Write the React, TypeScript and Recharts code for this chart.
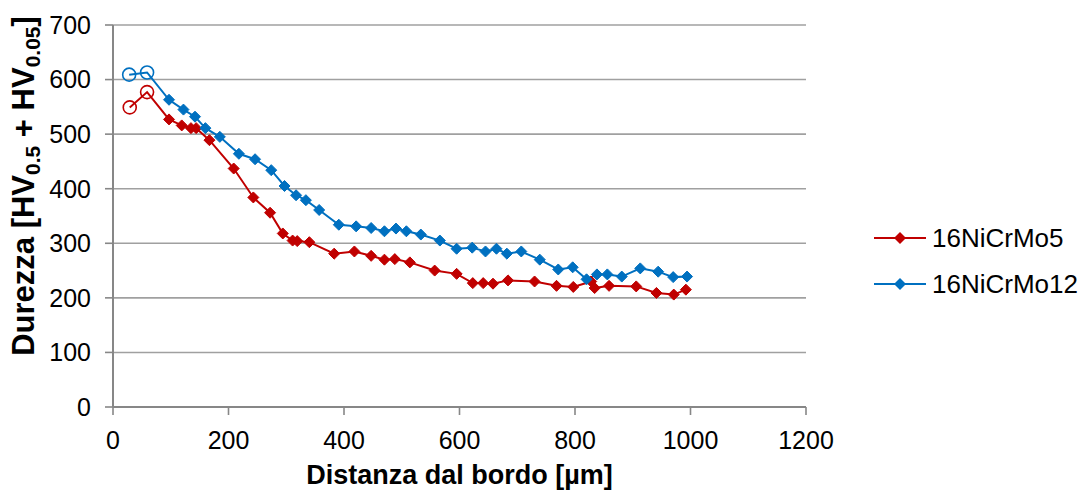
import React from 'react';
import { LineChart, Line, XAxis, YAxis, CartesianGrid } from 'recharts';

const seriesNames = ['16NiCrMo5', '16NiCrMo12'];
const seriesColors = ['#C00000', '#0070C0'];

const redX = [29, 59, 97, 119, 135, 144, 167, 209, 243, 272, 294, 311, 319, 340, 383, 418, 447, 470, 488, 514, 557, 595, 623, 641, 658, 684, 730, 768, 797, 828, 834, 859, 906, 941, 971, 992];
const redY = [549, 577, 527, 516, 511, 511, 489, 437, 384, 356, 318, 305, 304, 302, 281, 285, 277, 270, 271, 265, 250, 244, 227, 227, 226, 232, 230, 222, 220, 230, 218, 222, 221, 209, 206, 215];

const blueX = [28, 59, 97, 122, 142, 160, 185, 218, 246, 274, 297, 317, 334, 357, 391, 421, 447, 470, 490, 508, 533, 566, 595, 622, 645, 664, 682, 707, 739, 771, 796, 820, 838, 856, 881, 913, 944, 970, 994];
const blueY = [609, 613, 563, 545, 532, 511, 495, 464, 454, 434, 405, 388, 379, 361, 334, 331, 328, 322, 327, 322, 316, 305, 290, 292, 285, 290, 281, 285, 270, 252, 256, 234, 243, 243, 239, 254, 248, 238, 239];

const xTicks = [0, 200, 400, 600, 800, 1000, 1200];
const yTicks = [0, 100, 200, 300, 400, 500, 600, 700];

const redData = redX.map((x, i) => ({ x, y: redY[i] }));
const blueData = blueX.map((x, i) => ({ x, y: blueY[i] }));

const FONT = '"Liberation Sans", Arial, sans-serif';
const AXIS = '#878787';
const GRID = '#A0A0A0';

const makeDot = (color: string) => (props: any) => {
  const { cx, cy, index } = props;
  if (cx == null || cy == null) return <g key={`d-${index}`} />;
  if (index < 2) {
    return <circle key={`d-${index}`} cx={cx} cy={cy} r={6.5} fill="none" stroke={color} strokeWidth={1.6} />;
  }
  const s = 5.5;
  return (
    <polygon
      key={`d-${index}`}
      points={`${cx},${cy - s} ${cx + s},${cy} ${cx},${cy + s} ${cx - s},${cy}`}
      fill={color}
      stroke={color}
      strokeWidth={1}
    />
  );
};

const XTitle = (props: any) => {
  const vb = props.viewBox || {};
  const cx = vb.x + vb.width / 2;
  return (
    <text x={cx} y={484} textAnchor="middle" fontFamily={FONT} fontWeight="bold" fontSize={27} fill="#000">
      Distanza dal bordo [µm]
    </text>
  );
};

const YTitle = () => {
  return (
    <text
      x={0}
      y={0}
      transform="translate(34,186) rotate(-90)"
      textAnchor="middle"
      fontFamily={FONT}
      fontWeight="bold"
      fontSize={31}
      fill="#000"
    >
      <tspan>Durezza [HV</tspan>
      <tspan dy={6} fontSize={21}>0.5</tspan>
      <tspan dy={-6}> + HV</tspan>
      <tspan dy={6} fontSize={21}>0.05</tspan>
      <tspan dy={-6}>]</tspan>
    </text>
  );
};

const LegendBox = () => (
  <svg width={212} height={80} style={{ position: 'absolute', left: 870, top: 222, display: 'block' }}>
    {seriesNames.map((name, i) => {
      const y = 16 + i * 46;
      const s = 6;
      return (
        <g key={name}>
          <line x1={4} x2={56} y1={y} y2={y} stroke={seriesColors[i]} strokeWidth={2.2} />
          <polygon points={`30,${y - s} ${30 + s},${y} 30,${y + s} ${30 - s},${y}`} fill={seriesColors[i]} />
          <text x={62} y={y + 9} fontFamily={FONT} fontSize={26} fill="#000">
            {name}
          </text>
        </g>
      );
    })}
  </svg>
);

export default function App() {
  return (
    <div style={{ position: 'absolute', left: 0, top: 0, width: 1082, height: 490, background: '#fff' }}>
      <LineChart width={1082} height={490} margin={{ top: 25, right: 276, bottom: 0, left: 0 }}>
        <CartesianGrid horizontal vertical={false} stroke={GRID} strokeWidth={1.6} />
        <XAxis
          type="number"
          dataKey="x"
          domain={[0, 1200]}
          ticks={xTicks}
          interval={0}
          height={83}
          axisLine={{ stroke: AXIS, strokeWidth: 2 }}
          tickLine={{ stroke: AXIS, strokeWidth: 1.6 }}
          tickSize={8}
          tickMargin={16}
          tick={{ fill: '#000', fontSize: 25, fontFamily: FONT }}
          allowDataOverflow
          label={<XTitle />}
        />
        <YAxis
          type="number"
          domain={[0, 700]}
          ticks={yTicks}
          interval={0}
          width={113}
          axisLine={{ stroke: AXIS, strokeWidth: 2 }}
          tickLine={{ stroke: AXIS, strokeWidth: 1.6 }}
          tickSize={8}
          tickMargin={14}
          tick={{ fill: '#000', fontSize: 25, fontFamily: FONT }}
          label={<YTitle />}
        />
        <Line
          data={redData}
          dataKey="y"
          name={seriesNames[0]}
          stroke={seriesColors[0]}
          strokeWidth={2}
          dot={makeDot(seriesColors[0])}
          activeDot={false}
          isAnimationActive={false}
        />
        <Line
          data={blueData}
          dataKey="y"
          name={seriesNames[1]}
          stroke={seriesColors[1]}
          strokeWidth={2}
          dot={makeDot(seriesColors[1])}
          activeDot={false}
          isAnimationActive={false}
        />
      </LineChart>
      <LegendBox />
    </div>
  );
}
